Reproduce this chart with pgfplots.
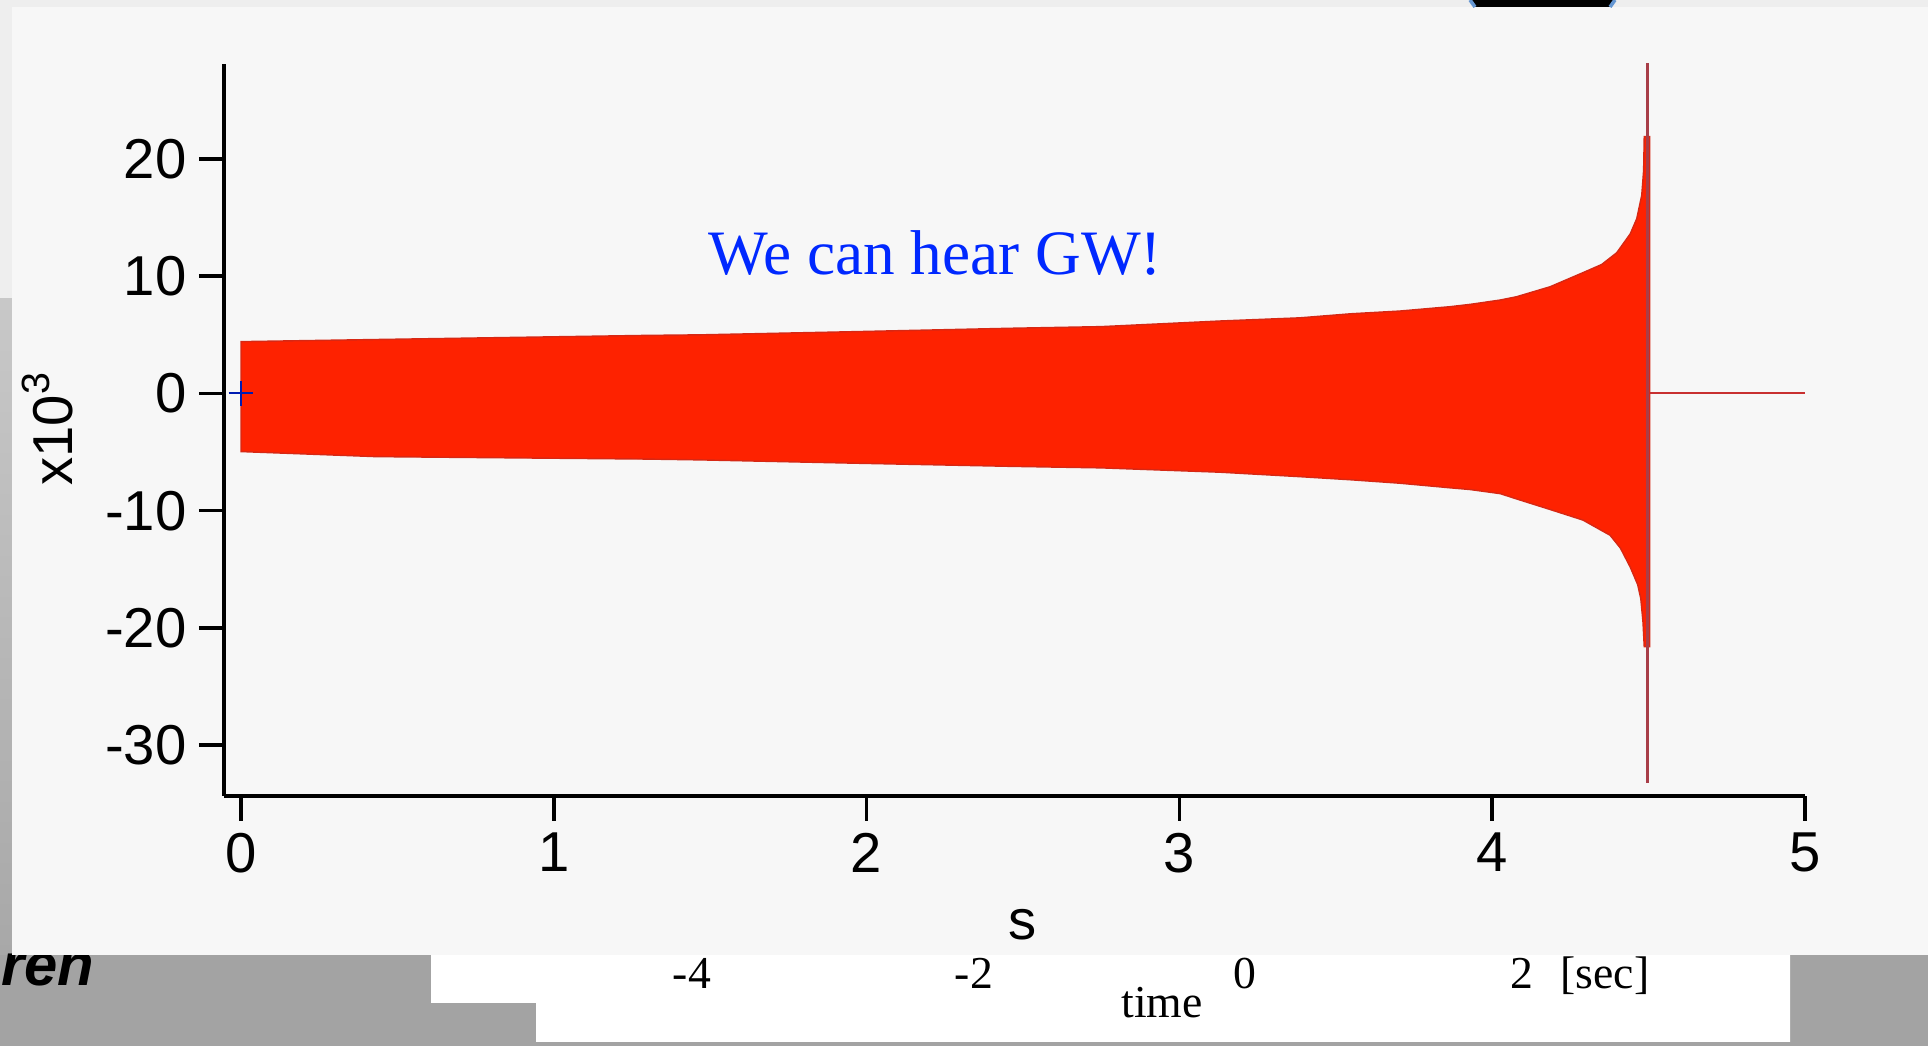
\documentclass[border=0pt]{standalone}
\usepackage{pgfplots}
\pgfplotsset{compat=1.18}
\usepackage{fontspec}
\setmainfont{Liberation Sans}
\newfontfamily\seriffont{Liberation Serif}
\definecolor{basegray}{RGB}{163,163,163}
\definecolor{topgray}{RGB}{238,238,238}
\definecolor{panel}{RGB}{247,247,247}
\definecolor{gwred}{RGB}{254,34,0}
\definecolor{gwedge}{RGB}{215,40,20}
\definecolor{spike}{RGB}{168,62,72}
\definecolor{flat}{RGB}{200,48,48}
\definecolor{textblue}{RGB}{0,40,255}
\definecolor{blobedge}{RGB}{100,150,210}
\definecolor{leftlight}{RGB}{200,200,200}
\definecolor{leftdark}{RGB}{168,168,168}
\begin{document}
\begin{tikzpicture}[x=1cm,y=1cm]
\path[use as bounding box] (0,0) rectangle (19.28,10.46);
% background of the slide behind the chart panel
\fill[basegray] (0,0) rectangle (19.28,10.46);
\fill[topgray] (0,10.30) rectangle (19.28,10.46);
\fill[topgray] (0,7.47) rectangle (0.3,10.46);
\shade[top color=leftlight, bottom color=leftdark] (0,0.91) rectangle (0.3,7.47);
\fill[white] (4.31,1.2) -- (17.90,1.2) -- (17.90,0.04) -- (5.36,0.04) -- (5.36,0.43) -- (4.31,0.43) -- cycle;
\node[anchor=base east, inner sep=0, font=\fontsize{17}{20}\selectfont\bfseries\itshape] at (0.95,0.60) {ren};
\begin{scope}[every node/.style={anchor=base, inner sep=0, font=\seriffont\fontsize{13}{15}\selectfont}]
\node at (6.92,0.57) {-4};
\node at (9.74,0.57) {-2};
\node at (12.45,0.57) {0};
\node at (15.22,0.57) {2};
\node at (16.05,0.57) {[sec]};
\node at (11.62,0.28) {time};
\end{scope}
% chart panel
\fill[panel] (0.123,0.91) rectangle (19.28,10.39);
\fill[black] (14.75,10.39) -- (14.70,10.46) -- (16.15,10.46) -- (16.10,10.39) -- cycle;
\draw[blobedge, line width=1pt] (14.75,10.39) -- (14.70,10.46) (16.10,10.39) -- (16.15,10.46);
\begin{axis}[
  at={(2.238cm,2.504cm)}, anchor=south west,
  scale only axis, width=15.812cm, height=7.316cm,
  xmin=-0.055, xmax=5, ymin=-34.3, ymax=28.1,
  axis lines=left, axis line style={-, line width=1.1pt, black},
  xtick={0,1,2,3,4,5}, ytick={-30,-20,-10,0,10,20},
  tick align=outside, major tick length=0.25cm,
  tick style={line width=1pt, black},
  tick label style={font=\fontsize{16}{19}\selectfont},
  /pgf/number format/assume math mode=true,
  xlabel={s}, ylabel={x10\textsuperscript{3}},
  label style={font=\fontsize{16}{19}\selectfont},
  xlabel style={at={(axis description cs:0.505,-0.197)}, anchor=base},
  ylabel style={at={(axis description cs:-0.096,0.502)}, anchor=base},
]
\addplot[fill=gwred, draw=gwedge, line width=0.4pt] coordinates {
 (0,4.42) (0.43,4.6) (1.29,4.95) (1.47,5.0) (1.96,5.27) (2.46,5.56) (2.75,5.7)
 (3.13,6.18) (3.385,6.45) (3.55,6.8) (3.705,7.03) (3.865,7.4) (3.93,7.6)
 (4.026,7.97) (4.078,8.25) (4.185,9.1) (4.29,10.3) (4.35,11.0) (4.398,12.0)
 (4.441,13.6) (4.462,14.9) (4.478,16.9) (4.484,19.0) (4.486,21.9) (4.503,21.9)
 (4.503,-21.6) (4.486,-21.6) (4.482,-19.5) (4.475,-17.5) (4.465,-16.3)
 (4.441,-14.8) (4.41,-13.2) (4.377,-12.1) (4.29,-10.8) (4.185,-9.9)
 (4.078,-9.0) (4.026,-8.55) (3.93,-8.2) (3.865,-8.05) (3.705,-7.66)
 (3.55,-7.37) (3.385,-7.1) (3.13,-6.72) (2.75,-6.35) (2.46,-6.22)
 (1.96,-5.95) (1.47,-5.67) (1.3,-5.6) (0.43,-5.39) (0,-4.96)
} -- cycle;
\addplot[spike, line width=0.9pt] coordinates {(4.497,-33.2) (4.497,28.2)};
\addplot[flat, line width=0.6pt] coordinates {(4.503,0) (5.0,0)};
\addplot[only marks, mark=+, mark size=3.5pt, textblue!70!black, mark options={line width=0.6pt}] coordinates {(0,0)};
\end{axis}
\node[anchor=base west, inner sep=0, text=textblue, font=\seriffont\fontsize{18}{21}\selectfont] at (7.08,7.71) {We can hear GW!};
\end{tikzpicture}
\end{document}
